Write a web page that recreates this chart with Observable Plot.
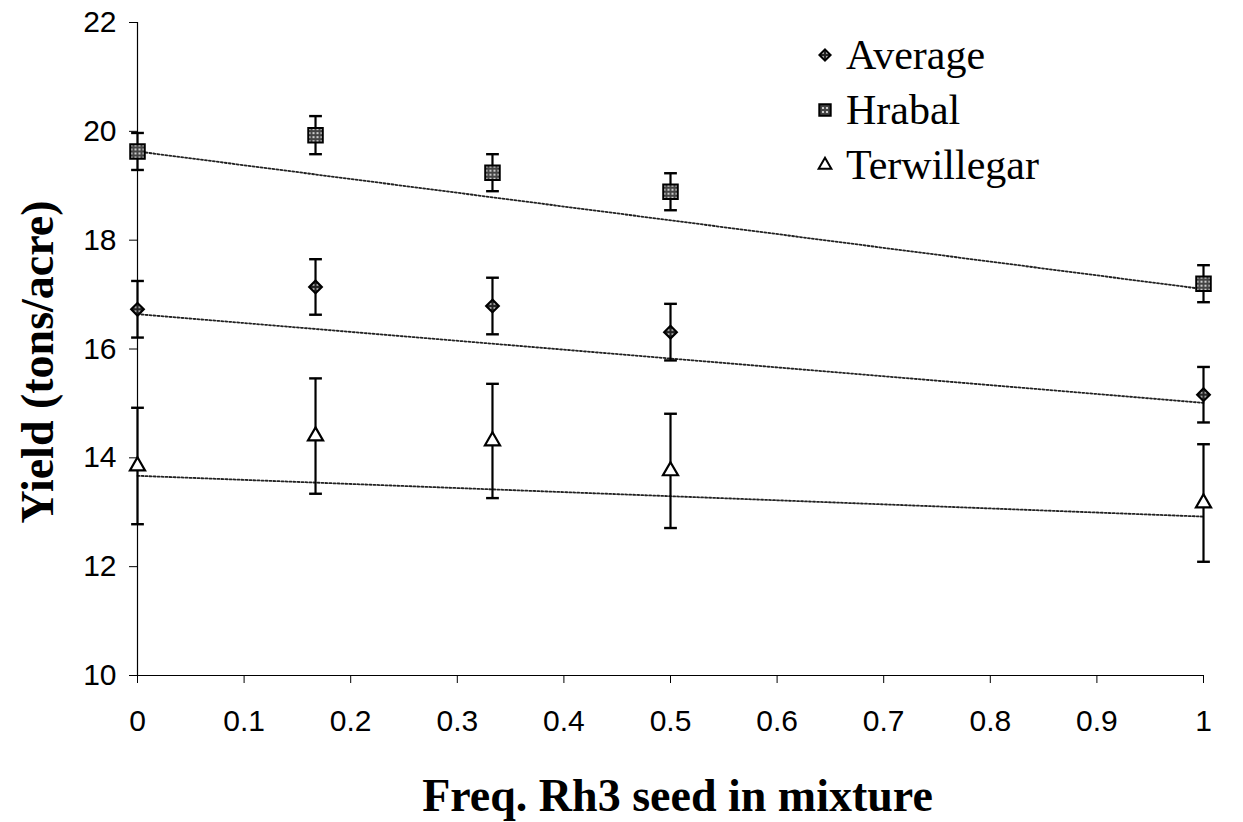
<!DOCTYPE html>
<html>
<head>
<meta charset="utf-8">
<script src="https://cdn.jsdelivr.net/npm/d3@7"></script>
<script src="https://cdn.jsdelivr.net/npm/@observablehq/plot@0.6"></script>
<style>
  html, body { margin: 0; padding: 0; background: #fff; }
  #wrap { position: relative; width: 1243px; height: 822px; overflow: hidden; }
  #legend { position: absolute; left: 812px; top: 27px; font-family: "Liberation Serif", "Times New Roman", serif; font-size: 42px; color: #000; }
  #legend .row { display: flex; align-items: center; height: 55px; }
  #legend svg { width: 26px; height: 26px; margin-right: 8px; }
  #xtitle { position: absolute; left: 0; width: 1243px; top: 773px; text-align: center; padding-left: 112px; box-sizing: border-box; font-family: "Liberation Serif", "Times New Roman", serif; font-weight: bold; font-size: 46px; line-height: 46px; }
  #ytitle { position: absolute; left: 38px; top: 362px; transform: translate(-50%, -50%) rotate(-90deg); white-space: nowrap; font-family: "Liberation Serif", "Times New Roman", serif; font-weight: bold; font-size: 46px; line-height: 46px; }
</style>
</head>
<body>
<div id="wrap">
  <div id="chart"></div>
  <div id="legend"></div>
  <div id="xtitle">Freq. Rh3 seed in mixture</div>
  <div id="ytitle">Yield (tons/acre)</div>
</div>
<script>
// ---- data ----
const freq = [0, 0.167, 0.333, 0.5, 1];
const seriesNames = ["Average", "Hrabal", "Terwillegar"];
const averageMean = [16.73, 17.14, 16.79, 16.31, 15.16];
const averageErr  = [0.52, 0.51, 0.52, 0.52, 0.51];
const hrabalMean  = [19.63, 19.93, 19.24, 18.89, 17.20];
const hrabalErr   = [0.34, 0.35, 0.34, 0.34, 0.34];
const terwMean    = [13.85, 14.40, 14.31, 13.76, 13.17];
const terwErr     = [1.07, 1.06, 1.05, 1.05, 1.08];
// linear trend lines (value at freq 0 and at freq 1)
const trendFreq  = [0, 1];
const trendStart = [16.64, 19.63, 13.67];
const trendEnd   = [15.01, 17.10, 12.92];
const xTicks = [0, 0.1, 0.2, 0.3, 0.4, 0.5, 0.6, 0.7, 0.8, 0.9, 1];
const yTicks = [10, 12, 14, 16, 18, 20, 22];

// ---- build tables ----
const means = [averageMean, hrabalMean, terwMean];
const errs = [averageErr, hrabalErr, terwErr];
const points = [];
seriesNames.forEach((s, i) => freq.forEach((f, j) => points.push({
  series: s, x: f, y: means[i][j], lo: means[i][j] - errs[i][j], hi: means[i][j] + errs[i][j]
})));
const trends = [];
seriesNames.forEach((s, i) => trendFreq.forEach((f, j) => trends.push({
  series: s, x: f, y: j === 0 ? trendStart[i] : trendEnd[i]
})));

const capSymbol = { draw(ctx, size) { const w = Math.sqrt(size); ctx.moveTo(-w, 0); ctx.lineTo(w, 0); } };
const caps = points.flatMap(p => [{x: p.x, y: p.lo}, {x: p.x, y: p.hi}]);

const styleOf = {
  Average: { symbol: "diamond2", r: 5.8, fill: "url(#patAvg)", stroke: "#000", strokeWidth: 2 },
  Hrabal: { symbol: "square", r: 8.2, fill: "url(#patHra)", stroke: "#000", strokeWidth: 2 },
  Terwillegar: { symbol: "triangle", r: 5.6, fill: "#fff", stroke: "#000", strokeWidth: 2.2 }
};

const plot = Plot.plot({
  width: 1243,
  height: 822,
  marginLeft: 137,
  marginRight: 40,
  marginTop: 22,
  marginBottom: 147,
  style: { fontFamily: "'Liberation Sans', Arial, sans-serif", fontSize: "30px", color: "#000", background: "#fff" },
  x: { domain: [0, 1], ticks: xTicks, tickFormat: d => String(d), label: null, tickSize: 8, tickPadding: 26 },
  y: { domain: [10, 22], ticks: yTicks, tickFormat: d => String(d), label: null, tickSize: 8, tickPadding: 13 },
  marks: [
    Plot.ruleX([0], { stroke: "#000", strokeWidth: 1.2 }),
    Plot.ruleY([10], { stroke: "#000", strokeWidth: 1.2 }),
    Plot.line(trends, { x: "x", y: "y", z: "series", stroke: "#222", strokeWidth: 1.8, strokeDasharray: "2,2" }),
    Plot.ruleX(points, { x: "x", y1: "lo", y2: "hi", stroke: "#000", strokeWidth: 2.2 }),
    Plot.dot(caps, { x: "x", y: "y", symbol: capSymbol, r: 3.6, stroke: "#000", strokeWidth: 2.4 }),
    ...seriesNames.map(s => Plot.dot(points.filter(p => p.series === s), { x: "x", y: "y", ...styleOf[s] }))
  ]
});

// patterns used to fill the markers
const defs = document.createElementNS("http://www.w3.org/2000/svg", "defs");
defs.innerHTML = `
  <pattern id="patHra" patternUnits="userSpaceOnUse" width="4" height="4">
    <rect width="4" height="4" fill="#444"/>
    <circle cx="2" cy="2" r="1.1" fill="#eee"/>
  </pattern>
  <pattern id="patAvg" patternUnits="userSpaceOnUse" width="4" height="4">
    <rect width="4" height="4" fill="#222"/>
    <circle cx="2" cy="2" r="0.9" fill="#ddd"/>
  </pattern>`;
plot.insertBefore(defs, plot.firstChild);
document.getElementById("chart").appendChild(plot);

// legend
const legend = document.getElementById("legend");
const symPaths = { Average: d3.symbolDiamond2, Hrabal: d3.symbolSquare, Terwillegar: d3.symbolTriangle };
const legendSize = { Average: 80, Hrabal: 130, Terwillegar: 70 };
seriesNames.forEach(s => {
  const row = document.createElement("div");
  row.className = "row";
  const st = styleOf[s];
  const path = d3.symbol(symPaths[s], legendSize[s])();
  row.innerHTML = `<svg viewBox="-13 -13 26 26"><path d="${path}" fill="${st.fill}" stroke="#000" stroke-width="2"/></svg><span>${s}</span>`;
  legend.appendChild(row);
});
</script>
</body>
</html>
